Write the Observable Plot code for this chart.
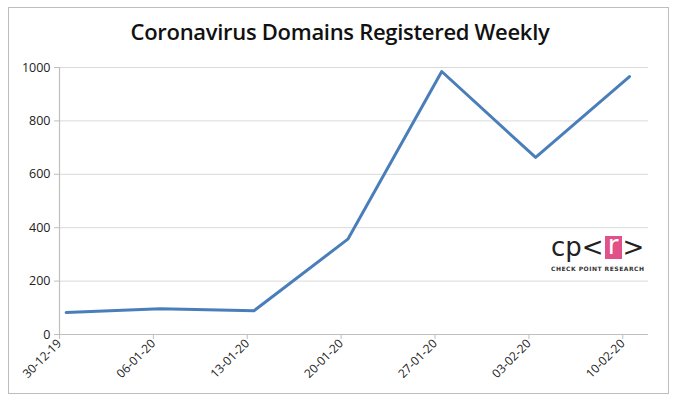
<!DOCTYPE html>
<html>
<head>
<meta charset="utf-8">
<script src="https://cdn.jsdelivr.net/npm/d3@7"></script>
<script src="https://cdn.jsdelivr.net/npm/@observablehq/plot@0.6"></script>
<style>
  html, body { margin: 0; padding: 0; background: #fff; }
  #wrap { position: relative; width: 680px; height: 406px; font-family: "Open Sans", "Liberation Sans", sans-serif; }
  #frame { position: absolute; left: 8px; top: 7px; width: 661px; height: 387px; border: 1.5px solid #bdbdbd; box-sizing: border-box; pointer-events: none; }
  #title { height: 55px; line-height: 62px; text-align: center; font-size: 22px; font-weight: 600; color: #111; letter-spacing: -0.3px; }
  #chart svg { display: block; }
  #logo { position: absolute; left: 551px; top: 232px; width: 100px; }
  #logo .mark { font-family: "DejaVu Sans", sans-serif; font-size: 26px; color: #222; line-height: 30px; white-space: nowrap; }
  #logo .r { display: inline-block; background: #e2508a; color: #fff; width: 17px; height: 23px; line-height: 19px; text-align: center; vertical-align: 2px; margin: 0 1px; }
  #logo .sub { font-family: "DejaVu Sans", sans-serif; font-size: 6px; font-weight: bold; letter-spacing: 0.5px; color: #333; margin-top: 3px; white-space: nowrap; }
</style>
</head>
<body>
<div id="wrap">
  <div id="title">Coronavirus Domains Registered Weekly</div>
  <div id="chart"></div>
  <div id="frame"></div>
  <div id="logo"><div class="mark">cp&lt;<span class="r">r</span>&gt;</div><div class="sub">CHECK POINT RESEARCH</div></div>
</div>
<script>
const weeks = ["2019-12-30", "2020-01-06", "2020-01-13", "2020-01-20", "2020-01-27", "2020-02-03", "2020-02-10"];
const weekLabels = ["30-12-19", "06-01-20", "13-01-20", "20-01-20", "27-01-20", "03-02-20", "10-02-20"];
const domains = [82, 96, 89, 357, 985, 663, 966];
const yTicks = [0, 200, 400, 600, 800, 1000];

const tickDates = weeks.map(d => new Date(d + "T00:00:00Z"));
const data = weeks.map((d, i) => ({ date: new Date(d + "T12:00:00Z"), value: domains[i] }));
const labelOf = new Map(tickDates.map((d, i) => [+d, weekLabels[i]]));

const gray = "#bfbfbf";
const chart = Plot.plot({
  width: 680,
  height: 351,
  marginLeft: 59,
  marginRight: 32,
  marginTop: 12,
  marginBottom: 72,
  style: { fontFamily: "'Open Sans', 'Liberation Sans', sans-serif", fontSize: "12px", color: "#222", background: "transparent" },
  x: { type: "utc", domain: [new Date("2019-12-30T00:00:00Z"), new Date("2020-02-11T22:00:00Z")], label: null },
  y: { domain: [0, 1000], label: null },
  marks: [
    Plot.gridY(yTicks.filter(v => v > 0), { stroke: "#d9d9d9", strokeOpacity: 1, strokeWidth: 1 }),
    Plot.ruleY([0], { stroke: gray, strokeWidth: 1.2 }),
    Plot.ruleX([tickDates[0]], { stroke: gray, strokeWidth: 1.2 }),
    Plot.axisY(yTicks, { tickSize: 5, tickPadding: 4, stroke: gray, fontSize: 12.5, fill: "#222", tickFormat: d => String(d), label: null }),
    Plot.axisX(tickDates, { tickSize: 5, tickPadding: 2, stroke: gray, tickRotate: -45, fontSize: 12, fill: "#222", tickFormat: d => labelOf.get(+d), textAnchor: "end", label: null }),
    Plot.line(data, { x: "date", y: "value", stroke: "#4a7ebb", strokeWidth: 3, strokeLinejoin: "round" })
  ]
});
document.getElementById("chart").appendChild(chart);
</script>
</body>
</html>
